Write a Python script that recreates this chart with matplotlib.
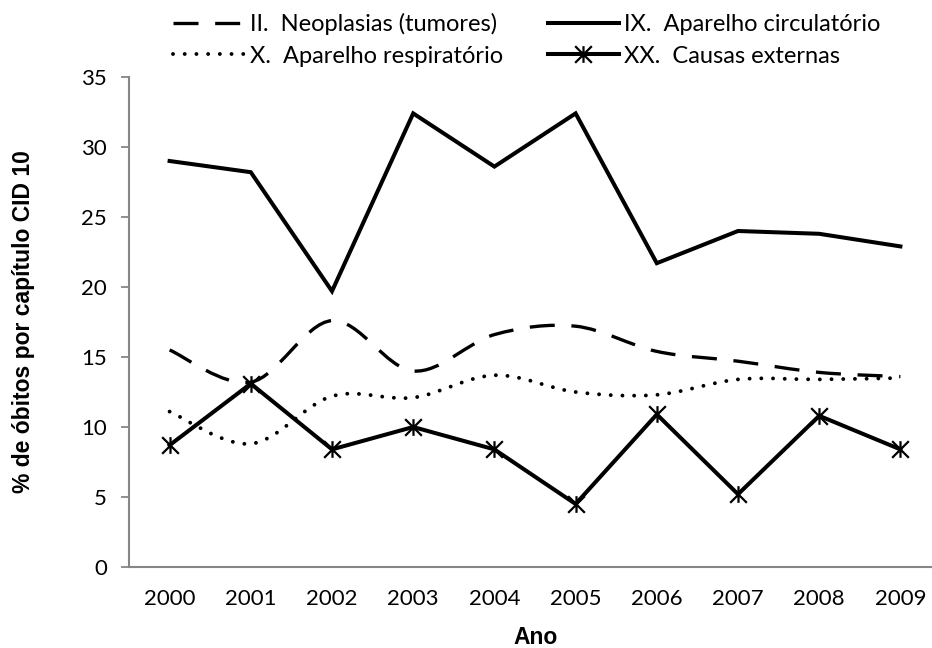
import numpy as np
import matplotlib.pyplot as plt
from matplotlib.path import Path
from matplotlib.patches import PathPatch
from matplotlib.lines import Line2D

anos = [2000, 2001, 2002, 2003, 2004, 2005, 2006, 2007, 2008, 2009]
neoplasias = [15.5, 13.2, 17.6, 14.0, 16.6, 17.2, 15.4, 14.7, 13.9, 13.6]
circulatorio = [29.0, 28.2, 19.7, 32.4, 28.6, 32.4, 21.7, 24.0, 23.8, 22.9]
respiratorio = [11.1, 8.8, 12.2, 12.1, 13.7, 12.5, 12.3, 13.4, 13.4, 13.5]
externas = [8.7, 13.1, 8.4, 10.0, 8.4, 4.5, 10.9, 5.2, 10.8, 8.4]

rot_neo = "II.  Neoplasias (tumores)"
rot_circ = "IX.  Aparelho circulatório"
rot_resp = "X.  Aparelho respiratório"
rot_ext = "XX.  Causas externas"

cinza = "#868686"
fonte = "Lato"


def curva_suave(x, y):
    # linha suavizada como no Excel (bezier de Catmull-Rom)
    pts = np.column_stack([np.asarray(x, float), np.asarray(y, float)])
    n = len(pts)
    verts = [pts[0]]
    codes = [Path.MOVETO]
    for i in range(n - 1):
        p0 = pts[max(i - 1, 0)]
        p1, p2 = pts[i], pts[i + 1]
        p3 = pts[min(i + 2, n - 1)]
        verts += [p1 + (p2 - p0) / 6, p2 - (p3 - p1) / 6, p2]
        codes += [Path.CURVE4] * 3
    return Path(verts, codes)


# marcador estrela do Excel: X com traço vertical
estrela = Path([(-1, -1), (1, 1), (-1, 1), (1, -1), (0, -1), (0, 1)],
               [Path.MOVETO, Path.LINETO, Path.MOVETO, Path.LINETO, Path.MOVETO, Path.LINETO])

tracejado = (0, (7.5, 5))
pontilhado = (0, (0.01, 3.0))

fig = plt.figure(figsize=(9.32, 6.48), dpi=100)
ax = fig.add_axes([129 / 932, 81 / 648, 812 / 932, 490 / 648])

ax.add_patch(PathPatch(curva_suave(anos, neoplasias), fill=False, color="black",
                       lw=2.4, ls=tracejado, capstyle="butt"))
ax.plot(anos, circulatorio, color="black", lw=2.9, solid_joinstyle="miter")
ax.add_patch(PathPatch(curva_suave(anos, respiratorio), fill=False, color="black",
                       lw=2.8, ls=pontilhado, capstyle="round"))
ax.plot(anos, externas, color="black", lw=2.9, marker=estrela, markersize=12,
        markeredgewidth=1.6, markerfacecolor="none", markeredgecolor="black",
        solid_joinstyle="miter")

ax.set_xlim(1999.5, 2009.5)
ax.set_ylim(0, 35)
ax.set_xticks(anos)
ax.set_xticklabels([str(a) for a in anos], fontsize=16, family=fonte)
ax.set_yticks(range(0, 36, 5))
ax.set_yticklabels([str(v) for v in range(0, 36, 5)], fontsize=16, family=fonte)
ax.tick_params(axis="x", length=0, pad=16)
ax.tick_params(axis="y", length=6, width=1.3, color=cinza, direction="out", pad=10)
for lado in ["top", "right"]:
    ax.spines[lado].set_visible(False)
for lado in ["left", "bottom"]:
    ax.spines[lado].set_color(cinza)
    ax.spines[lado].set_linewidth(1.5)

fig.text(24 / 932, 1 - 322 / 648, "% de óbitos por capítulo CID 10", rotation=90,
         ha="center", va="center", fontsize=16.5, fontweight="bold",
         family="Liberation Sans")
fig.text(536 / 932, 1 - 638 / 648, "Ano", ha="center", va="center", fontsize=16.5,
         fontweight="bold", family="Liberation Sans")

# ordem por colunas: coluna 1 = neo, resp ; coluna 2 = circ, ext
alcas = [
    Line2D([], [], color="black", lw=2.4, ls=tracejado),
    Line2D([], [], color="black", lw=2.8, ls=pontilhado, dash_capstyle="round"),
    Line2D([], [], color="black", lw=2.9),
    Line2D([], [], color="black", lw=2.9, marker=estrela, markersize=12,
           markeredgewidth=1.6, markerfacecolor="none"),
]
fig.legend(alcas, [rot_neo, rot_resp, rot_circ, rot_ext], ncol=2, loc="upper left",
           bbox_to_anchor=(173 / 932, 1 - 13 / 648), frameon=False,
           prop={"family": fonte, "size": 17}, handlelength=3.0, handletextpad=0.25,
           columnspacing=1.9, labelspacing=0.45, borderpad=0, borderaxespad=0)

fig.savefig("out.png", dpi=100)
